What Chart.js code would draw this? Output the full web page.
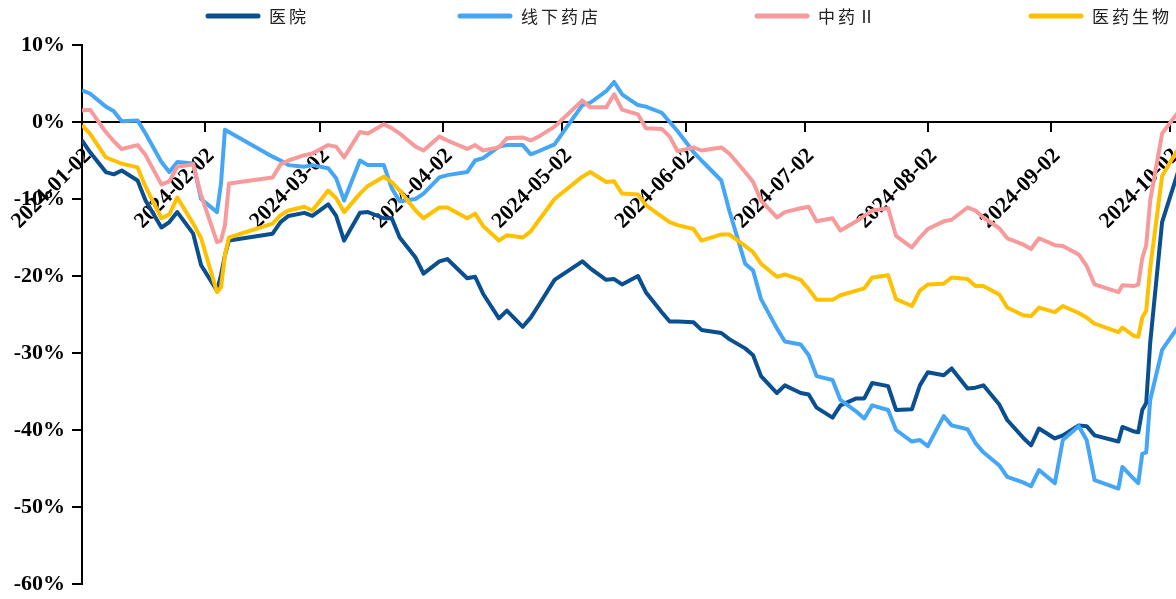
<!DOCTYPE html>
<html>
<head>
<meta charset="utf-8">
<script src="https://cdn.jsdelivr.net/npm/chart.js@4.4.1/dist/chart.umd.min.js"></script>
<style>
  html, body { margin: 0; padding: 0; background: #fff; }
  #wrap { width: 1176px; height: 599px; }
</style>
</head>
<body>
<div id="wrap"><canvas id="myChart" width="1176" height="599"></canvas></div>
<script>
// trading dates in 2024 (month-day)
const dates = [
  '01-02','01-04','01-08','01-10','01-12','01-16','01-18','01-22','01-24','01-26','01-30',
  '02-01','02-05','02-06','02-07','02-08','02-19','02-21','02-23','02-27','02-29',
  '03-04','03-06','03-08','03-12','03-14','03-18','03-20','03-22','03-26','03-28',
  '04-01','04-03','04-08','04-10','04-12','04-16','04-18','04-22','04-24','04-26','04-30',
  '05-07','05-09','05-13','05-15','05-17','05-21','05-23','05-27','05-29','05-31',
  '06-04','06-06','06-11','06-13','06-17','06-19','06-21','06-25','06-27',
  '07-01','07-03','07-05','07-09','07-11','07-15','07-17','07-19','07-23','07-25','07-29','07-31',
  '08-02','08-06','08-08','08-12','08-14','08-16','08-20','08-22','08-26','08-28','08-30',
  '09-03','09-05','09-09','09-11','09-13','09-19','09-20','09-23','09-24','09-25','09-26','09-27','09-30',
  '10-08'
];

// cumulative return, %
const hospital = [
  -2.4, -3.9, -6.5, -6.8, -6.3, -7.6, -10.2, -13.7, -13.0, -11.7, -14.5,
  -18.6, -21.9, -19.9, -17.3, -15.4, -14.5, -13.0, -12.2, -11.8, -12.2,
  -10.7, -12.2, -15.4, -11.8, -11.7, -12.5, -12.5, -15.0, -17.6, -19.7,
  -18.1, -17.8, -20.3, -20.1, -22.3, -25.5, -24.5, -26.6, -25.4, -23.8, -20.5,
  -18.1, -19.0, -20.5, -20.4, -21.1, -20.0, -22.1, -24.7, -25.9, -25.9,
  -26.0, -27.0, -27.4, -28.2, -29.4, -30.3, -33.0, -35.2, -34.2,
  -35.2, -35.4, -37.1, -38.4, -36.8, -35.9, -35.9, -33.9, -34.3, -37.4, -37.3, -34.2,
  -32.5, -32.9, -32.0, -34.6, -34.5, -34.2, -36.7, -38.7, -41.0, -42.0, -39.8,
  -41.1, -40.7, -39.4, -39.5, -40.7, -41.5, -39.6, -40.2, -40.3, -37.4, -36.5, -28.7, -13.0,
  0.0
];
const pharmacy = [
  4.1, 3.7, 2.0, 1.4, 0.1, 0.2, -1.5, -5.2, -6.5, -5.2, -5.4,
  -10.0, -11.7, -8.0, -1.0, -1.3, -4.5, -5.0, -5.6, -5.8, -5.6,
  -6.0, -7.3, -10.2, -5.0, -5.6, -5.6, -8.6, -10.3, -10.0, -9.3,
  -7.2, -6.9, -6.5, -5.0, -4.7, -3.2, -3.0, -3.0, -4.2, -3.8, -2.9,
  2.2, 2.5, 4.0, 5.2, 3.6, 2.2, 2.0, 1.2, 0.0, -1.2,
  -3.9, -5.0, -7.6, -11.5, -18.4, -19.3, -23.0, -26.8, -28.5,
  -28.9, -30.3, -33.0, -33.5, -36.1, -37.6, -38.5, -36.8, -37.4, -40.0, -41.5, -41.3,
  -42.1, -38.2, -39.4, -39.9, -41.7, -42.9, -44.6, -46.1, -46.8, -47.3, -45.2,
  -46.9, -41.3, -39.5, -41.3, -46.5, -47.6, -44.8, -46.4, -46.9, -43.1, -42.9, -36.1, -29.6,
  -23.6
];
const tcm = [
  1.5, 1.6, -1.3, -2.5, -3.5, -3.0, -4.3, -8.1, -7.7, -5.8, -5.5,
  -9.5, -15.6, -15.4, -13.4, -8.0, -7.2, -5.5, -5.0, -4.3, -4.1,
  -3.0, -3.2, -4.6, -1.3, -1.5, -0.3, -0.8, -1.5, -3.2, -3.7,
  -1.9, -2.4, -3.5, -3.0, -3.7, -3.3, -2.1, -2.0, -2.4, -1.9, -0.6,
  2.8, 1.9, 1.9, 3.6, 1.6, 1.0, -0.8, -0.9, -1.9, -3.8,
  -3.3, -3.7, -3.3, -4.1, -6.5, -7.8, -10.2, -12.4, -11.7,
  -11.2, -11.0, -12.9, -12.5, -14.1, -12.9, -12.2, -11.5, -11.2, -14.8, -16.3, -15.0,
  -13.9, -12.9, -12.7, -11.1, -11.5, -12.4, -13.8, -15.1, -15.9, -16.5, -15.1,
  -16.0, -16.1, -17.2, -18.7, -21.1, -22.1, -21.2, -21.3, -21.1, -17.7, -16.0, -10.2, -1.5,
  4.0
];
const pharmaBio = [
  -0.4, -1.5, -4.6, -5.0, -5.4, -5.9, -8.4, -12.5, -12.0, -9.8, -13.2,
  -15.1, -22.1, -21.5, -17.3, -15.0, -13.2, -12.1, -11.5, -11.0, -11.5,
  -8.9, -9.9, -11.7, -9.3, -8.3, -7.1, -7.8, -8.9, -11.5, -12.5,
  -11.1, -11.1, -12.5, -11.9, -13.5, -15.4, -14.7, -15.0, -14.2, -12.8, -10.0,
  -7.1, -6.5, -7.8, -7.7, -9.3, -9.4, -10.8, -12.3, -13.0, -13.4,
  -13.9, -15.4, -14.6, -14.6, -16.1, -16.9, -18.4, -20.1, -19.8,
  -20.5, -21.7, -23.1, -23.1, -22.5, -21.9, -21.6, -20.2, -19.9, -23.0, -23.9, -21.9,
  -21.1, -21.0, -20.2, -20.4, -21.3, -21.3, -22.4, -24.1, -25.1, -25.2, -24.1,
  -24.7, -23.9, -24.8, -25.4, -26.2, -27.3, -26.7, -27.8, -27.9, -25.4, -24.5, -19.0, -7.0,
  0.0
];

const seriesNames = ['医院', '线下药店', '中药Ⅱ', '医药生物'];
const seriesValues = [hospital, pharmacy, tcm, pharmaBio];
const seriesColors = ['#0A4F8F', '#46A6F6', '#F79A9C', '#FFC000'];

const tickLabels = [
  '2024-01-02', '2024-02-02', '2024-03-02', '2024-04-02', '2024-05-02',
  '2024-06-02', '2024-07-02', '2024-08-02', '2024-09-02', '2024-10-02'
];

// days since 2024-01-02
const start = Date.UTC(2024, 0, 2);
const dayOf = s => (Date.parse(s + 'T00:00:00Z') - start) / 86400000;
const tickDays = tickLabels.map(dayOf);

const toPoints = vals => vals.map((v, i) => ({ x: dayOf('2024-' + dates[i]), y: v }));

// legend: short thick line + name, across the top
const lineLegend = {
  id: 'lineLegend',
  afterDraw(chart) {
    const ctx = chart.ctx;
    const xs = [205, 457, 754, 1028];
    ctx.save();
    ctx.font = '17px "Noto Sans CJK SC"';
    ctx.letterSpacing = '3px';
    ctx.textBaseline = 'middle';
    chart.data.datasets.forEach((ds, i) => {
      ctx.strokeStyle = ds.borderColor;
      ctx.lineWidth = 5;
      ctx.lineCap = 'round';
      ctx.beginPath();
      ctx.moveTo(xs[i] + 3, 16);
      ctx.lineTo(xs[i] + 53, 16);
      ctx.stroke();
      ctx.fillStyle = '#222';
      ctx.fillText(ds.label, xs[i] + 64, 17);
    });
    ctx.restore();
  }
};

const tickFont = { family: '"Liberation Serif", "Times New Roman", serif', size: 22, weight: 'bold' };

const ctx = document.getElementById('myChart');
const chart = new Chart(ctx, {
  type: 'line',
  data: {
    datasets: seriesNames.map((name, i) => ({
      label: name,
      data: toPoints(seriesValues[i]),
      borderColor: seriesColors[i],
      backgroundColor: seriesColors[i],
      borderWidth: 4,
      borderJoinStyle: 'round',
      pointRadius: 0,
      tension: 0,
      order: 3 - i
    }))
  },
  options: {
    responsive: false,
    animation: false,
    layout: { padding: { top: 45, bottom: 15, left: 0, right: 0 } },
    plugins: {
      legend: { display: false },
      tooltip: { enabled: false }
    },
    scales: {
      x: {
        type: 'linear',
        position: { y: 0 },
        min: 0,
        max: 275.5,
        z: 1,
        afterBuildTicks: s => { s.ticks = tickDays.map(v => ({ value: v })); },
        afterFit: s => { s.paddingLeft = 0; s.paddingRight = 0; },
        grid: { drawOnChartArea: false, drawTicks: true, tickLength: 9, color: '#000', lineWidth: 2 },
        border: { display: true, color: '#000', width: 2 },
        ticks: {
          autoSkip: false,
          minRotation: 45,
          maxRotation: 45,
          padding: 12,
          labelOffset: 6,
          color: '#000',
          font: tickFont,
          callback: (v, i) => tickLabels[i]
        }
      },
      y: {
        min: -60,
        max: 10,
        afterFit: s => { s.width = 82; s.paddingTop = 0; s.paddingBottom = 0; },
        grid: { drawOnChartArea: false, drawTicks: true, tickLength: 10, color: '#000', lineWidth: 2 },
        border: { display: true, color: '#000', width: 2 },
        ticks: {
          stepSize: 10,
          padding: 7,
          color: '#000',
          font: tickFont,
          callback: v => v + '%'
        }
      }
    }
  },
  plugins: [lineLegend]
});
</script>
</body>
</html>
